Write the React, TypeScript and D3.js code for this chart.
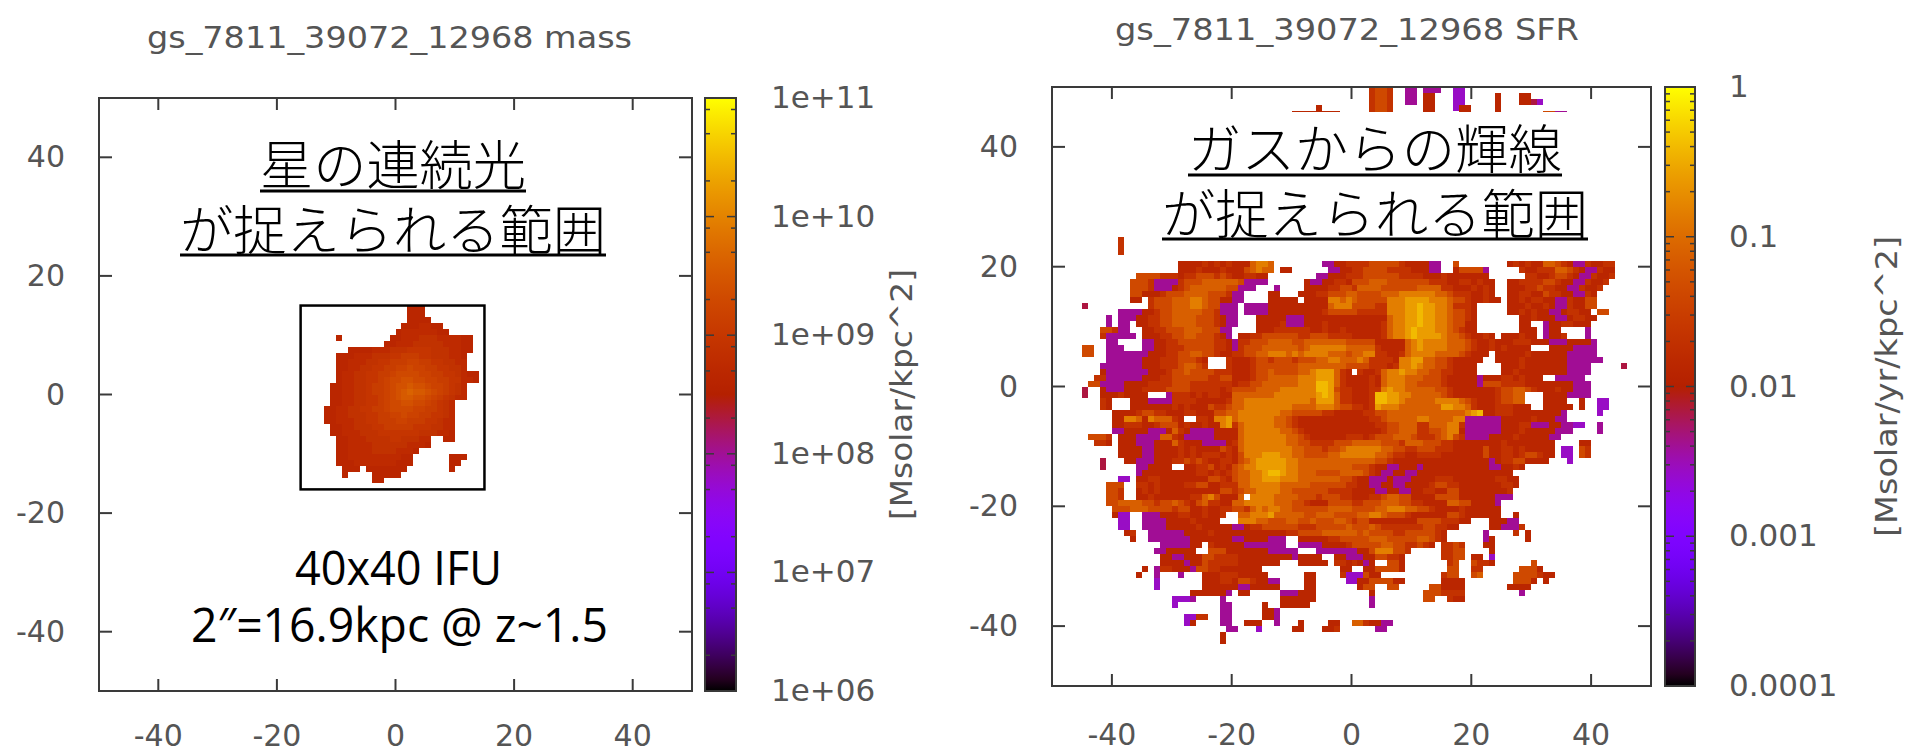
import * as d3 from 'd3';
import React from 'react';

// heat map cells: [y kpc (top edge), x kpc (left edge), one level char per kpc, '.' = no data]
const massCells: [number, number, string][] = [
  [15, 2, '000'], [14, 2, '000'], [13, 2, '0000'], [12, 1, '0001100'], [11, 0, '011111100'],
  [10, -10, '0'], [10, -1, '00111222111100'], [9, -2, '001112222211100'],
  [8, -8, '000011122233332221100'], [7, -10, '0001112223344433222110'],
  [6, -10, '0011122334445544332211'], [5, -10, '0011223344556554433221'],
  [4, -10, '011223344566665544332100'], [3, -10, '011223345667766554433110'],
  [2, -11, '00112234456778776554321'], [1, -11, '00112234456789887654321'],
  [0, -11, '00112233456788776543211'], [-1, -11, '001122334566776654321'],
  [-2, -12, '0011223344566665544321'], [-3, -12, '0011222334455655443321'],
  [-4, -12, '0011122334445544433211'], [-5, -11, '001122233444443332211'],
  [-6, -11, '001112223333333222110'], [-7, -10, '0011122223322211'], [-7, 8, '00'],
  [-8, -10, '0011112222221110'], [-9, -10, '00111122221110'],
  [-10, -10, '0011111111100'], [-10, 9, '000'], [-11, -10, '0001111111000'], [-11, 9, '00'],
  [-12, -9, '000'], [-12, -5, '0000000'], [-12, 9, '0'], [-13, -9, '0'], [-13, -4, '00000'], [-14, -4, '00'],
];

const sfrCells: [number, number, string][] = [
  // strip above the white text box
  [50, 3, '5665'], [50, 9, '22'], [50, 12, '222'], [50, 17, '11'],
  [49, 3, '5665'], [49, 9, '22'], [49, 12, '44'], [49, 17, '11'], [49, 24, '4'], [49, 28, '44'],
  [48, 3, '5665'], [48, 9, '22'], [48, 12, '44'], [48, 17, '11'], [48, 24, '4'], [48, 28, '443'], [48, 31, '1'],
  [47, -6, '4'], [47, 3, '5665'], [47, 12, '44'], [47, 17, '1'], [47, 18, '44'], [47, 24, '4'],
  [46, -10, '44444444'], [46, -6, '4'], [46, 3, '5665'], [46, 12, '44'], [46, 18, '44'], [46, 24, '4'], [46, 32, '6622'],
  [25, -39, '5'], [24, -39, '5'], [23, -39, '5'],
  // main body, top to bottom
  [21, -29, '4444545454447887'], [21, -5, '22445'], [21, 0, '555666665444422'], [21, 17, '6'], [21, 26, '454544776542254455'],
  [20, -29, '4445444544467877'], [20, -12, '44'], [20, -4, '2244'], [20, 0, '556666555544422'], [20, 17, '46666'], [20, 22, '2'], [20, 28, '5445557765422544'],
  [19, -36, '6666555455666565445544'], [19, -6, '224445'], [19, 0, '55666666555544454444444'], [19, 29, '554456654225445'],
  [18, -37, '6665'], [18, -33, '2222'], [18, -29, '56667777776'], [18, -18, '2222'], [18, -8, '42244'], [18, -3, '554'], [18, 0, '666777666666655544554544'], [18, 26, '44555566544225445'],
  [17, -37, '6665'], [17, -33, '2224'], [17, -29, '5677777766'], [17, -19, '222'], [17, -13, '2'], [17, -8, '4444'], [17, -4, '55665'], [17, 1, '77776666667777554445454'], [17, 26, '4445565544225445'],
  [16, -37, '664'], [16, -34, '44'], [16, -32, '566677776665'], [16, -20, '22'], [16, -14, '44'], [16, -9, '4445'], [16, -5, '5666'], [16, -1, '7766667778888887765554454'], [16, 26, '445544655442254'],
  [15, -37, '44'], [15, -34, '566677788766'], [15, -22, '44'], [15, -20, '22'], [15, -14, '44444'], [15, -8, '4444'], [15, -4, '8878'], [15, 0, '766666'], [15, 6, '88899998887'], [15, 17, '66544544'], [15, 26, '445455442254466'],
  [14, -45, '3'], [14, -34, '566677788766'], [14, -22, '222'], [14, -18, '2222'], [14, -14, '44444444'], [14, -6, '44'], [14, -4, '7888'], [14, 0, '666655'], [14, 6, '88899a99887'], [14, 17, '5554'], [14, 26, '444544542254466'],
  [13, -39, '2222'], [13, -35, '4456677777665'], [13, -22, '222'], [13, -18, '2222'], [13, -14, '4444444'], [13, -7, '445'], [13, -4, '6666'], [13, 0, '655555'], [13, 6, '88899a99887'], [13, 17, '6654'], [13, 26, '44545442245544'], [13, 41, '66'],
  [12, -41, '2'], [12, -39, '222'], [12, -36, '445566777766654'], [12, -21, '22'], [12, -16, '44'], [12, -14, '444'], [12, -11, '222'], [12, -8, '4444'], [12, -4, '4444'], [12, 0, '444444'], [12, 6, '78899a99887'], [12, 17, '6654'], [12, 28, '4454442245544'],
  [11, -41, '2'], [11, -39, '22'], [11, -36, '445566777766654'], [11, -21, '22'], [11, -16, '44'], [11, -14, '445'], [11, -11, '222'], [11, -8, '4445'], [11, -4, '4444'], [11, 0, '444445'], [11, 6, '78899a99887'], [11, 17, '6644'], [11, 28, '44'], [11, 32, '24455444'],
  [10, -42, '6655'], [10, -39, '22'], [10, -35, '445566677766654'], [10, -22, '22'], [10, -16, '44455555544'], [10, -5, '5'], [10, -4, '4454'], [10, 0, '444445'], [10, 6, '7889a999887'], [10, 17, '6544'], [10, 28, '444'], [10, 32, '244'], [10, 39, '2'],
  [9, -42, '5'], [9, -41, '22222'], [9, -35, '44455667766654'], [9, -21, '2'], [9, -19, '4455666666556'], [9, -6, '66'], [9, -4, '5555'], [9, 0, '444445'], [9, 6, '7889a999987'], [9, 17, '7654454'], [9, 25, '444544'], [9, 32, '2445'], [9, 39, '2'],
  [8, -41, '22'], [8, -35, '2244556666665542'], [8, -19, '5566677776677'], [8, -6, '77'], [8, -4, '7776'], [8, 0, '6666'], [8, 4, '44444'], [8, 9, '789888877765'], [8, 21, '44544455544422244442'],
  [7, -45, '66'], [7, -41, '222'], [7, -35, '2244555666665542'], [7, -19, '5666777777678'], [7, -6, '88'], [7, -4, '8887'], [7, 0, '7777'], [7, 4, '54444'], [7, 9, '789888877765'], [7, 21, '445454444'], [7, 33, '44442222'],
  [6, -45, '66'], [6, -41, '222222'], [6, -35, '244455667766544'], [6, -20, '55667788878788'], [6, -6, '88'], [6, -4, '7776'], [6, 0, '7788'], [6, 4, '55445'], [6, 9, '788887777654'], [6, 21, '44'], [6, 24, '4444454444442222'], [6, 36, '22222'],
  [5, -41, '22222'], [5, -36, '244455566654'], [5, -21, '5'], [5, -20, '4445665666566677887778755554889977665444'], [5, 20, '44'], [5, 24, '4444544444442222'], [5, 36, '222222'],
  [4, -42, '222222'], [4, -36, '244455567765'], [4, -21, '5'], [4, -20, '4445666666677777777666655545889877665444'], [4, 20, '4'], [4, 25, '44454444444'], [4, 36, '2222'],
  [3, -42, '4222222'], [3, -35, '2444566766665556'], [3, -20, '44456676666778999754.5445788988776655444'], [3, 20, '4'], [3, 25, '44544444444'], [3, 36, '2222'],
  [2, -43, '5522222'], [2, -36, '2444556666665566'], [2, -20, '44456677777888999754444547888777666544'], [2, 18, '4442'], [2, 22, '4445545444'], [2, 34, '22222'],
  [1, -44, '66'], [1, -42, '2222'], [1, -38, '444455556665555555'], [1, -20, '45566777777888aa9754444547888776666544'], [1, 18, '4442'], [1, 22, '666555544444444222'],
  [0, -45, '3'], [0, -42, '4222'], [0, -38, '444555566665555545'], [0, -20, '66667777888888aa9655444558988777776654'], [0, 18, '4444'], [0, 22, '445667765444544222'],
  [-1, -45, '3'], [-1, -42, '4445'], [-1, -38, '44'], [-1, -36, '44'], [-1, -31, '25554545544'], [-1, -20, '777777788888889a97554445aa99887777765444'], [-1, 20, '44'], [-1, 22, '4456677'], [-1, 32, '44442222'],
  [-2, -42, '54'], [-2, -37, '4442222555544444'], [-2, -21, '5'], [-2, -20, '778888888888879997554445aa998777778888'], [-2, 18, '7654'], [-2, 22, '4456677'], [-2, 32, '4444'], [-2, 38, '4'], [-2, 41, '11'],
  [-3, -42, '54'], [-3, -37, '44444445454446556'], [-3, -20, '778888888877778887665545988877777779988'], [-3, 19, '754'], [-3, 22, '44555'], [-3, 27, '444'], [-3, 32, '44444'], [-3, 38, '4'], [-3, 41, '11'],
  [-4, -40, '44445665544455444667'], [-4, -20, '78888888776666655444445566777777777777789a87'], [-4, 22, '44555444444442'], [-4, 41, '1'],
  [-5, -40, '448874877754'], [-5, -26, '5548899'], [-5, -20, '78888887765444444444444556777778877778888'], [-5, 19, '222222'], [-5, 25, '44444544422'],
  [-6, -40, '4455544566645445448998'], [-6, -20, '57888887765444444444444455667775577788'], [-6, 18, '5'], [-6, 19, '222222'], [-6, 25, '44455222442211'], [-6, 41, '2'],
  [-7, -40, '22'], [-7, -38, '44442224754222244445'], [-7, -20, '47888888776544444444444445667775566788'], [-7, 18, '4'], [-7, 19, '222222'], [-7, 25, '444544444222'], [-7, 41, '2'],
  [-8, -44, '6665'], [-8, -39, '444222277542222244445'], [-8, -20, '4788888887765444444555456667776555678'], [-8, 17, '6'], [-8, 18, '5'], [-8, 19, '2222'], [-8, 23, '44'], [-8, 25, '4454444422'],
  [-9, -43, '554'], [-9, -39, '444222444754442222444'], [-9, -20, '578888888776655556667777766657776665'], [-9, 16, '544444'], [-9, 22, '444544444444'], [-9, 38, '44'],
  [-10, -39, '444422444454544446544'], [-10, -20, '4788888888776665667888888776655666555'], [-10, 17, '44444'], [-10, 22, '644554544444'], [-10, 35, '11'], [-10, 38, '65'],
  [-11, -39, '444422444454545554554'], [-11, -20, '4688899988776666778888887765544555544'], [-11, 17, '44444'], [-11, 22, '644554566544'], [-11, 35, '11'], [-11, 38, '65'],
  [-12, -42, '3'], [-12, -38, '4422244455656544554'], [-12, -20, '46789999988777777777777766544444444444'], [-12, 18, '4444'], [-12, 22, '42455664444'], [-12, 36, '1'],
  [-13, -42, '3'], [-13, -36, '224444'], [-13, -28, '44556454'], [-13, -20, '6788999998877777777766654422444244444'], [-13, 17, '44444'], [-13, 22, '4224454'],
  [-14, -36, '2444'], [-14, -32, '444444554545'], [-14, -20, '677889aa988777666677776542244224444'], [-14, 15, '4444444'], [-14, 22, '44444'],
  [-15, -39, '11'], [-15, -36, '4455444444446654'], [-15, -20, '67788999888777777766544222422244'], [-15, 12, '4455544444'], [-15, 22, '445544'],
  [-16, -41, '666'], [-16, -36, '5545444455664455'], [-16, -20, '5778888877777666666554422442244'], [-16, 11, '44566554444'], [-16, 22, '444554'],
  [-17, -41, '665'], [-17, -36, '4545444444444466'], [-17, -20, '5677888877666666555544442244224455'], [-17, 14, '4466'], [-17, 18, '4444'], [-17, 22, '44445'],
  [-18, -41, '665'], [-18, -36, '4454444445578644'], [-18, -20, '47'], [-18, -17, '8888777766656665544455677664444'], [-18, 14, '6666'], [-18, 18, '4444'], [-18, 22, '44222'],
  [-19, -41, '6677776656676546755445'], [-19, -20, '778888877766544466665566677766554444'], [-19, 16, '7766'], [-19, 20, '44'], [-19, 22, '442'],
  [-20, -40, '66677766665664454455'], [-20, -20, '665787887766666677776666778887766544445'], [-20, 19, '444444'],
  [-21, -40, '4'], [-21, -39, '11'], [-21, -35, '22244455445445'], [-21, -19, '77888977777667776666778876665444444'], [-21, 16, '66544'], [-21, 21, '44'], [-21, 23, '44'], [-21, 27, '4'],
  [-22, -39, '11'], [-22, -35, '2222444454444'], [-22, -19, '888776667766766677656644444444'], [-22, 11, '666655544'], [-22, 23, '44422'],
  [-23, -39, '11'], [-23, -35, '222244444544444'], [-23, -20, '22455666666555666667666765555555'], [-23, 12, '665544'], [-23, 23, '44'], [-23, 25, '222'], [-23, 28, '5'],
  [-24, -38, '45'], [-24, -34, '2222224444544444'], [-24, -18, '44444445566667777'], [-24, -1, '77676666556666654'], [-24, 22, '2'], [-24, 27, '5'], [-24, 29, '4'],
  [-25, -37, '4'], [-25, -34, '22222224444444'], [-25, -20, '224444222'], [-25, -9, '44444556'], [-25, -1, '66667776666677654'], [-25, 22, '24'], [-25, 29, '4'],
  [-26, -32, '2222244'], [-26, -24, '5444442222222'], [-26, -9, '2222444'], [-26, -2, '4566666776655654'], [-26, 15, '5565'], [-26, 22, '44'],
  [-27, -33, '2244444'], [-27, -24, '6664444444222'], [-27, -11, '22'], [-27, -6, '222222'], [-27, 0, '2'], [-27, 1, '446888665'], [-27, 15, '5566'], [-27, 23, '4'],
  [-28, -32, '4422444'], [-28, -25, '6655554444444442222'], [-28, -9, '4444'], [-28, -3, '442224466554'], [-28, 15, '5566'], [-28, 20, '44'], [-28, 23, '1'],
  [-29, -32, '4444244'], [-29, -25, '6555554444444'], [-29, -9, '44444'], [-29, -3, '554542'], [-29, 3, '4'], [-29, 6, '664'], [-29, 16, '56'], [-29, 20, '6554'], [-29, 30, '6'],
  [-30, -35, '4'], [-30, -33, '2'], [-30, -32, '5544424'], [-30, -26, '66554444444'], [-30, -2, '44'], [-30, 2, '4466664'], [-30, 16, '66'], [-30, 20, '55'], [-30, 28, '6664'],
  [-31, -36, '4'], [-31, -33, '2'], [-31, -29, '2'], [-31, -25, '44455544444'], [-31, -8, '44'], [-31, -2, '511'], [-31, 1, '1644'], [-31, 15, '566'], [-31, 20, '67'], [-31, 27, '6666544'],
  [-32, -33, '1'], [-32, -25, '4445546654422'], [-32, -8, '44'], [-32, -1, '1144666644'], [-32, 15, '4444'], [-32, 27, '6664'], [-32, 32, '4'],
  [-33, -33, '1'], [-33, -25, '4444442244444'], [-33, -8, '44'], [-33, 1, '466'], [-33, 6, '66'], [-33, 13, '66'], [-33, 15, '4444'], [-33, 26, '4444'],
  [-34, -27, '4444442'], [-34, -19, '44'], [-34, -12, '222444'], [-34, 3, '4'], [-34, 12, '666'], [-34, 15, '5555'], [-34, 28, '2'],
  [-35, -30, '1112'], [-35, -22, '2'], [-35, -12, '444444'], [-35, 3, '2'], [-35, 12, '66'], [-35, 16, '544'],
  [-36, -30, '1'], [-36, -22, '22'], [-36, -15, '4'], [-36, -12, '44444'], [-36, 3, '2'],
  [-37, -22, '22'], [-37, -15, '44'], [-37, -13, '2'],
  [-38, -28, '11'], [-38, -26, '55'], [-38, -22, '22'], [-38, -15, '44'], [-38, -13, '2'],
  [-39, -28, '14'], [-39, -22, '22'], [-39, -18, '444'], [-39, -13, '2'], [-39, -9, '4'], [-39, -4, '44'], [-39, 0, '7754422'],
  [-40, -21, '22'], [-40, -16, '1'], [-40, -10, '44'], [-40, -5, '445'], [-40, 4, '22'],
  [-41, -22, '4'], [-42, -22, '4'],
  // isolated cell on the right edge
  [4, 45, '3'],
];

// level char -> value
const massLevels: Record<string, number> = {
  '0': 4.5e8, '1': 5.8e8, '2': 7.4e8, '3': 9.5e8, '4': 1.2e9,
  '5': 1.6e9, '6': 2e9, '7': 2.6e9, '8': 3.4e9, '9': 4.4e9,
};
const sfrLevels: Record<string, number> = {
  '1': 0.00275, '2': 0.004, '3': 0.0069, '4': 0.0132, '5': 0.0219,
  '6': 0.0437, '7': 0.0759, '8': 0.1445, '9': 0.251, a: 0.398,
};

const axisTicks = [-40, -20, 0, 20, 40];
const massTicks = [1e11, 1e10, 1e9, 1e8, 1e7, 1e6];
const massTickLabels = ['1e+11', '1e+10', '1e+09', '1e+08', '1e+07', '1e+06'];
const massMinors = [2, 5, 8];
const sfrTicks = [1, 0.1, 0.01, 0.001, 0.0001];
const sfrTickLabels = ['1', '0.1', '0.01', '0.001', '0.0001'];
const sfrMinors = [2, 3, 4, 5, 6, 7, 8, 9];
const ifuBox = { x0: -16, x1: 15, y0: -16, y1: 15 };

const tickFont = '"DejaVu Sans", sans-serif';
const jpFont = '"Noto Sans CJK JP", sans-serif';
const ink = '#3a3a3a';
const labelInk = '#555';

// gnuplot's default pm3d palette (rgbformulae 7,5,15)
const palette = (t: number) => {
  const r = Math.sqrt(t);
  const g = t * t * t;
  const b = Math.max(0, Math.sin(2 * Math.PI * t));
  return d3.rgb(r * 255, g * 255, b * 255).formatHex();
};

function expand(cells: [number, number, string][], levels: Record<string, number>) {
  const grid = new Map<string, { x: number; y: number; v: number }>();
  cells.forEach(([y, x0, s]) => {
    s.split('').forEach((c, i) => {
      const key = `${x0 + i},${y}`;
      if (c === '.') grid.delete(key);
      else grid.set(key, { x: x0 + i, y, v: levels[c] });
    });
  });
  return Array.from(grid.values());
}

type PanelProps = {
  id: string;
  title: string;
  titleX: number;
  titleY: number;
  titleLen: number;
  box: [number, number, number, number]; // left right top bottom
  bar: [number, number];
  cells: { x: number; y: number; v: number }[];
  domain: [number, number];
  ticks: number[];
  tickLabels: string[];
  minors: number[];
  labelX: number;
  unit: string;
  unitX: number;
  unitLen: number;
  xLabelY: number;
  yLabelRight: number;
  children?: React.ReactNode;
};

function Panel(p: PanelProps) {
  const [l, r, t, b] = p.box;
  const x = d3.scaleLinear().domain([-50, 50]).range([l, r]);
  const y = d3.scaleLinear().domain([50, -50]).range([t, b]);
  const cb = d3.scaleLog().domain(p.domain).range([0, 1]);
  const cbY = d3.scaleLog().domain(p.domain).range([b, t]);
  const decades = p.ticks.slice(1);

  return (
    <g>
      <text x={p.titleX} y={p.titleY} fontFamily={tickFont} fontSize={30} fill={labelInk}
        textLength={p.titleLen} lengthAdjust="spacingAndGlyphs">{p.title}</text>

      <g filter="url(#soft)" shapeRendering="crispEdges">
        {p.cells.map((c) => (
          <rect key={`${c.x},${c.y}`} x={x(c.x)} y={y(c.y)}
            width={x(c.x + 1) - x(c.x)} height={y(c.y - 1) - y(c.y)}
            fill={palette(cb(c.v))} />
        ))}
      </g>

      {p.children}

      <rect x={l} y={t} width={r - l} height={b - t} fill="none" stroke={ink} strokeWidth={2} />
      {axisTicks.map((v) => (
        <g key={v} stroke={ink} strokeWidth={2}>
          <line x1={x(v)} x2={x(v)} y1={t} y2={t + 12} />
          <line x1={x(v)} x2={x(v)} y1={b} y2={b - 12} />
          <line x1={l} x2={l + 13} y1={y(v)} y2={y(v)} />
          <line x1={r} x2={r - 13} y1={y(v)} y2={y(v)} />
        </g>
      ))}
      {axisTicks.map((v) => (
        <text key={v} x={x(v)} y={p.xLabelY} textAnchor="middle" fontFamily={tickFont} fontSize={30} fill={labelInk}>{v}</text>
      ))}
      {axisTicks.map((v) => (
        <text key={v} x={p.yLabelRight} y={y(v) + 10} textAnchor="end" fontFamily={tickFont} fontSize={30} fill={labelInk}>{v}</text>
      ))}

      {/* colour bar */}
      <defs>
        <linearGradient id={`${p.id}-bar`} x1="0" x2="0" y1="1" y2="0">
          {d3.range(0, 1.001, 0.02).map((s) => (
            <stop key={s} offset={s} stopColor={palette(s)} />
          ))}
        </linearGradient>
      </defs>
      <rect x={p.bar[0]} y={t} width={p.bar[1] - p.bar[0]} height={b - t} fill={`url(#${p.id}-bar)`} stroke={ink} strokeWidth={2} />
      {decades.flatMap((d) => p.minors.map((m) => d * m)).map((v) => (
        <g key={v} stroke={ink} strokeWidth={1.5}>
          <line x1={p.bar[0]} x2={p.bar[0] + 5} y1={cbY(v)} y2={cbY(v)} />
          <line x1={p.bar[1]} x2={p.bar[1] - 5} y1={cbY(v)} y2={cbY(v)} />
        </g>
      ))}
      {p.ticks.map((v, i) => (
        <g key={v}>
          <g stroke={ink} strokeWidth={1.5}>
            <line x1={p.bar[0]} x2={p.bar[0] + 9} y1={cbY(v)} y2={cbY(v)} />
            <line x1={p.bar[1]} x2={p.bar[1] - 9} y1={cbY(v)} y2={cbY(v)} />
          </g>
          <text x={p.labelX} y={cbY(v) + 10} fontFamily={tickFont} fontSize={31} fill={labelInk}>{p.tickLabels[i]}</text>
        </g>
      ))}
      <text transform={`translate(${p.unitX},${(t + b) / 2}) rotate(-90)`} textAnchor="middle"
        fontFamily={tickFont} fontSize={31} fill={labelInk} textLength={p.unitLen} lengthAdjust="spacingAndGlyphs">{p.unit}</text>
    </g>
  );
}

function Caption({ lines }: { lines: { text: string; x0: number; x1: number; base: number; rule: number }[] }) {
  return (
    <g>
      {lines.map((l) => (
        <g key={l.text}>
          <text x={l.x0} y={l.base} fontFamily={jpFont} fontWeight={300} fontSize={53} fill="#000"
            textLength={l.x1 - l.x0} lengthAdjust="spacingAndGlyphs">{l.text}</text>
          <line x1={l.x0} x2={l.x1} y1={l.rule} y2={l.rule} stroke="#000" strokeWidth={3} />
        </g>
      ))}
    </g>
  );
}

export default function App() {
  const massData = expand(massCells, massLevels);
  const sfrData = expand(sfrCells, sfrLevels);
  const massBox: [number, number, number, number] = [99, 692, 98, 691];
  const massX = d3.scaleLinear().domain([-50, 50]).range([massBox[0], massBox[1]]);
  const massY = d3.scaleLinear().domain([50, -50]).range([massBox[2], massBox[3]]);

  return (
    <svg width={1919} height={753} style={{ position: 'absolute', left: 0, top: 0, display: 'block', background: '#fff' }}>
      <defs>
        <filter id="soft" x="-5%" y="-5%" width="110%" height="110%">
          <feGaussianBlur stdDeviation={0.7} />
        </filter>
      </defs>

      <Panel id="mass" title="gs_7811_39072_12968 mass" titleX={147} titleY={48} titleLen={485}
        box={massBox} bar={[705, 736]} cells={massData} domain={[1e6, 1e11]}
        ticks={massTicks} tickLabels={massTickLabels} minors={massMinors}
        labelX={771} unit="[Msolar/kpc^2]" unitX={912} unitLen={251} xLabelY={745.5} yLabelRight={65}>
        <rect x={massX(ifuBox.x0)} y={massY(ifuBox.y1)}
          width={massX(ifuBox.x1) - massX(ifuBox.x0)} height={massY(ifuBox.y0) - massY(ifuBox.y1)}
          fill="none" stroke="#000" strokeWidth={2.5} />
        <Caption lines={[
          { text: '星の連続光', x0: 260, x1: 526, base: 185, rule: 191 },
          { text: 'が捉えられる範囲', x0: 180, x1: 606, base: 250, rule: 255 },
        ]} />
        <text x={295} y={585} fontFamily='"Open Sans", sans-serif' fontSize={48} fill="#000"
          textLength={207} lengthAdjust="spacingAndGlyphs">40x40 IFU</text>
        <text x={191} y={642} fontFamily='"Open Sans", sans-serif' fontSize={48} fill="#000"
          textLength={417} lengthAdjust="spacingAndGlyphs">2″=16.9kpc @ z~1.5</text>
      </Panel>

      <Panel id="sfr" title="gs_7811_39072_12968 SFR" titleX={1115} titleY={40} titleLen={464}
        box={[1052, 1651, 87, 686]} bar={[1665, 1695]} cells={sfrData} domain={[1e-4, 1]}
        ticks={sfrTicks} tickLabels={sfrTickLabels} minors={sfrMinors}
        labelX={1729} unit="[Msolar/yr/kpc^2]" unitX={1897} unitLen={301} xLabelY={745} yLabelRight={1018}>
        <rect x={1132} y={112} width={485} height={149} fill="#fff" />
        <Caption lines={[
          { text: 'ガスからの輝線', x0: 1188, x1: 1562, base: 169, rule: 175 },
          { text: 'が捉えられる範囲', x0: 1162, x1: 1588, base: 234, rule: 239 },
        ]} />
      </Panel>
    </svg>
  );
}
